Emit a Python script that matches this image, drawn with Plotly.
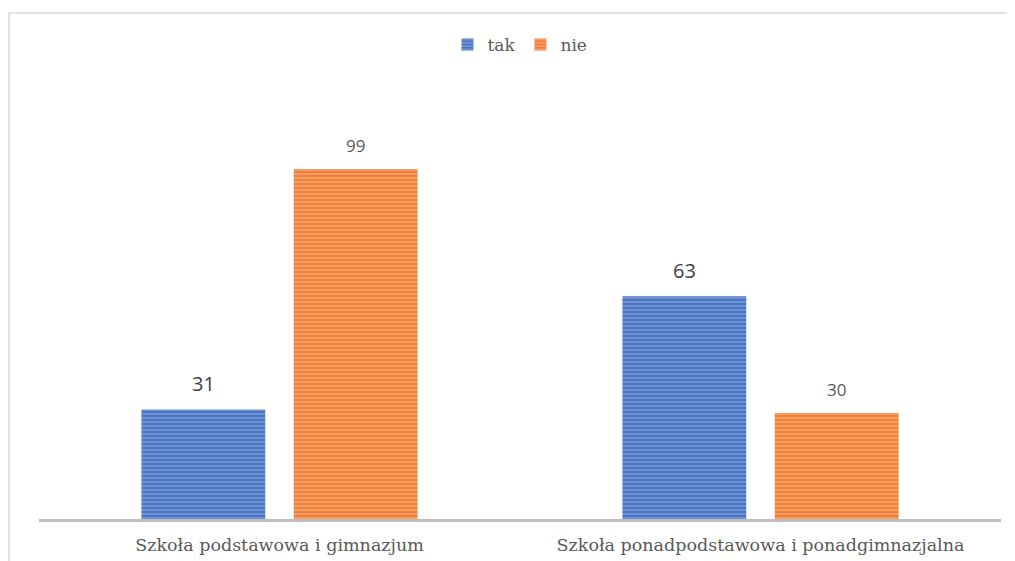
import plotly.graph_objects as go

categories = ["Szkoła podstawowa i gimnazjum", "Szkoła ponadpodstawowa i ponadgimnazjalna"]
series_names = ["tak", "nie"]
tak_values = [31, 63]
nie_values = [99, 30]

colors = {"tak": "#4A76C6", "nie": "#EE8038"}
stripe = {"tak": "#9DB5E3", "nie": "#F9C29A"}

label_style = {
    "tak": dict(size=20, color="#404040", shift=10),
    "nie": dict(size=17, color="#595959", shift=10),
}

BARGAP = 0.3666
BARGROUPGAP = 0.187

fig = go.Figure()
annotations = []
slot = (1 - BARGAP) / 2
offsets = {"tak": -slot / 2, "nie": slot / 2}
for name, vals in zip(series_names, [tak_values, nie_values]):
    fig.add_trace(go.Bar(
        x=categories, y=vals, name=name,
        marker=dict(color=colors[name], line=dict(width=0),
                    pattern=dict(shape="-", fgcolor=stripe[name], bgcolor=colors[name],
                                 size=4, solidity=0.45, fillmode="overlay")),
    ))
    st = label_style[name]
    for i, v in enumerate(vals):
        annotations.append(dict(
            x=i + offsets[name], y=v, xref="x", yref="y",
            text=str(v), showarrow=False, yanchor="bottom", yshift=st["shift"],
            font=dict(family="Open Sans, Lato, sans-serif", size=st["size"], color=st["color"]),
        ))

fig.update_layout(
    width=1015, height=561,
    margin=dict(l=31, r=22, t=72, b=50),
    paper_bgcolor="white", plot_bgcolor="white",
    barmode="group", bargap=BARGAP, bargroupgap=BARGROUPGAP,
    showlegend=True,
    legend=dict(orientation="h", x=0.5, xanchor="center", y=1.08, yanchor="middle",
                bgcolor="rgba(0,0,0,0)",
                font=dict(family="DejaVu Serif", size=17, color="#595959"),
                itemwidth=30, tracegroupgap=0),
    xaxis=dict(showline=True, linecolor="#BFBFBF", linewidth=3, ticks="",
               ticklabelstandoff=8,
               tickfont=dict(family="DejaVu Serif", size=17.5, color="#595959")),
    yaxis=dict(range=[0, 124.2], visible=False, showgrid=False, zeroline=False),
    annotations=annotations,
    shapes=[
        dict(type="line", xref="paper", yref="paper", x0=-0.04, x1=1.03, y0=1.1526, y1=1.1526,
             line=dict(color="#D9D9D9", width=1.5)),
        dict(type="line", xref="paper", yref="paper", x0=-0.0312, x1=-0.0312, y0=1.1526, y1=-0.2,
             line=dict(color="#D9D9D9", width=1.5)),
    ],
)

fig.write_html("out.html")
